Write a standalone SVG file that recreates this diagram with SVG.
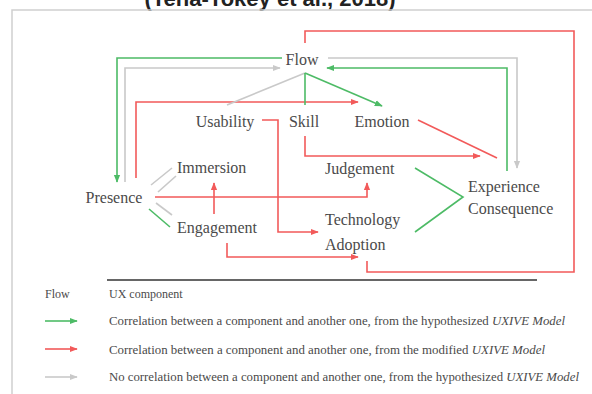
<svg xmlns="http://www.w3.org/2000/svg" width="592" height="394" viewBox="0 0 592 394">
<style>
.n{font-family:"Liberation Serif","DejaVu Serif",serif;font-size:16px;fill:#4a4a4a}
.lg{font-family:"Liberation Serif","DejaVu Serif",serif;font-size:12px;fill:#4a4a4a}
.g{stroke:#4dbb66;stroke-width:1.6;fill:none}
.r{stroke:#f25a5a;stroke-width:1.6;fill:none}
.y{stroke:#c9c9c9;stroke-width:1.6;fill:none}
</style>
<defs>
<marker id="ag" viewBox="0 0 10 10" refX="9" refY="5" markerWidth="5" markerHeight="5" orient="auto"><path d="M0,1 L10,5 L0,9 z" fill="#4dbb66"/></marker>
<marker id="ar" viewBox="0 0 10 10" refX="9" refY="5" markerWidth="5" markerHeight="5" orient="auto"><path d="M0,1 L10,5 L0,9 z" fill="#f25a5a"/></marker>
<marker id="ay" viewBox="0 0 10 10" refX="9" refY="5" markerWidth="5" markerHeight="5" orient="auto"><path d="M0,1 L10,5 L0,9 z" fill="#c9c9c9"/></marker>
</defs>
<rect width="592" height="394" fill="#fff"/>
<text x="270" y="6" text-anchor="middle" font-family="'Liberation Sans',Arial,sans-serif" font-weight="bold" font-size="22" fill="#222">(Tena-Tokey et al., 2018)</text>
<rect x="12" y="10" width="600" height="400" fill="none" stroke="#cfcfcf" stroke-width="1.5"/>

<g id="connectors">
<polyline class="g" points="282,58 117,58 117,182" marker-end="url(#ag)"/>
<polyline class="y" points="125,182 125,68 280,68" marker-end="url(#ay)"/>
<polyline class="r" points="136,178 136,102 358,102" marker-end="url(#ar)"/>
<line class="y" x1="305" y1="73" x2="227" y2="105"/>
<line class="g" x1="305" y1="73" x2="305" y2="105"/>
<line class="g" x1="305" y1="73" x2="382" y2="106" marker-end="url(#ag)"/>
<polyline class="r" points="262,120 278,120 278,232 318,232" marker-end="url(#ar)"/>
<polyline class="r" points="305,136 305,156 480,156" marker-end="url(#ar)"/>
<line class="r" x1="418" y1="120" x2="497" y2="158"/>
<polyline class="y" points="328,58 517,58 517,168" marker-end="url(#ay)"/>
<polyline class="g" points="507,171 507,68 327,68" marker-end="url(#ag)"/>
<polyline class="r" points="305,43 305,31 574,31 574,272 367,272 367,261"/>
<polyline class="r" points="227,243 227,257 358,257" marker-end="url(#ar)"/>
<polyline class="r" points="155,197 367,197 367,183" marker-end="url(#ar)"/>
<line class="r" x1="214" y1="214" x2="214" y2="183" marker-end="url(#ar)"/>
<line class="y" x1="151" y1="185" x2="172" y2="168"/>
<line class="y" x1="158" y1="192" x2="176" y2="176"/>
<line class="y" x1="156" y1="203" x2="172" y2="215"/>
<line class="g" x1="149" y1="209" x2="170" y2="227"/>
<polyline class="g" points="415,168 463,197 415,232"/>
</g>

<g id="flow"><text class="n" x="302" y="65" text-anchor="middle">Flow</text></g>
<g id="usability"><text class="n" x="225" y="127" text-anchor="middle">Usability</text></g>
<g id="skill"><text class="n" x="304" y="127" text-anchor="middle">Skill</text></g>
<g id="emotion"><text class="n" x="382" y="127" text-anchor="middle">Emotion</text></g>
<g id="presence"><text class="n" x="114" y="203" text-anchor="middle">Presence</text></g>
<g id="immersion"><text class="n" x="177" y="173">Immersion</text></g>
<g id="engagement"><text class="n" x="177" y="233">Engagement</text></g>
<g id="judgement"><text class="n" x="325" y="174">Judgement</text></g>
<g id="technology-adoption"><text class="n" x="325" y="225">Technology</text><text class="n" x="325" y="250">Adoption</text></g>
<g id="experience-consequence"><text class="n" x="468" y="192">Experience</text><text class="n" x="468" y="214">Consequence</text></g>

<g id="legend">
<line x1="107" y1="280" x2="537" y2="280" stroke="#666" stroke-width="2"/>
<text class="lg" x="45" y="298">Flow</text>
<text class="lg" x="109" y="298">UX component</text>
<line class="g" x1="45" y1="321" x2="77" y2="321" marker-end="url(#ag)"/>
<text class="lg" x="109" y="325" textLength="456" lengthAdjust="spacingAndGlyphs">Correlation between a component and another one, from the hypothesized <tspan font-style="italic">UXIVE Model</tspan></text>
<line class="r" x1="45" y1="349" x2="77" y2="349" marker-end="url(#ar)"/>
<text class="lg" x="109" y="354" textLength="436" lengthAdjust="spacingAndGlyphs">Correlation between a component and another one, from the modified <tspan font-style="italic">UXIVE Model</tspan></text>
<line class="y" x1="45" y1="377" x2="77" y2="377" marker-end="url(#ay)"/>
<text class="lg" x="109" y="381" textLength="470" lengthAdjust="spacingAndGlyphs">No correlation between a component and another one, from the hypothesized <tspan font-style="italic">UXIVE Model</tspan></text>
</g>
</svg>
